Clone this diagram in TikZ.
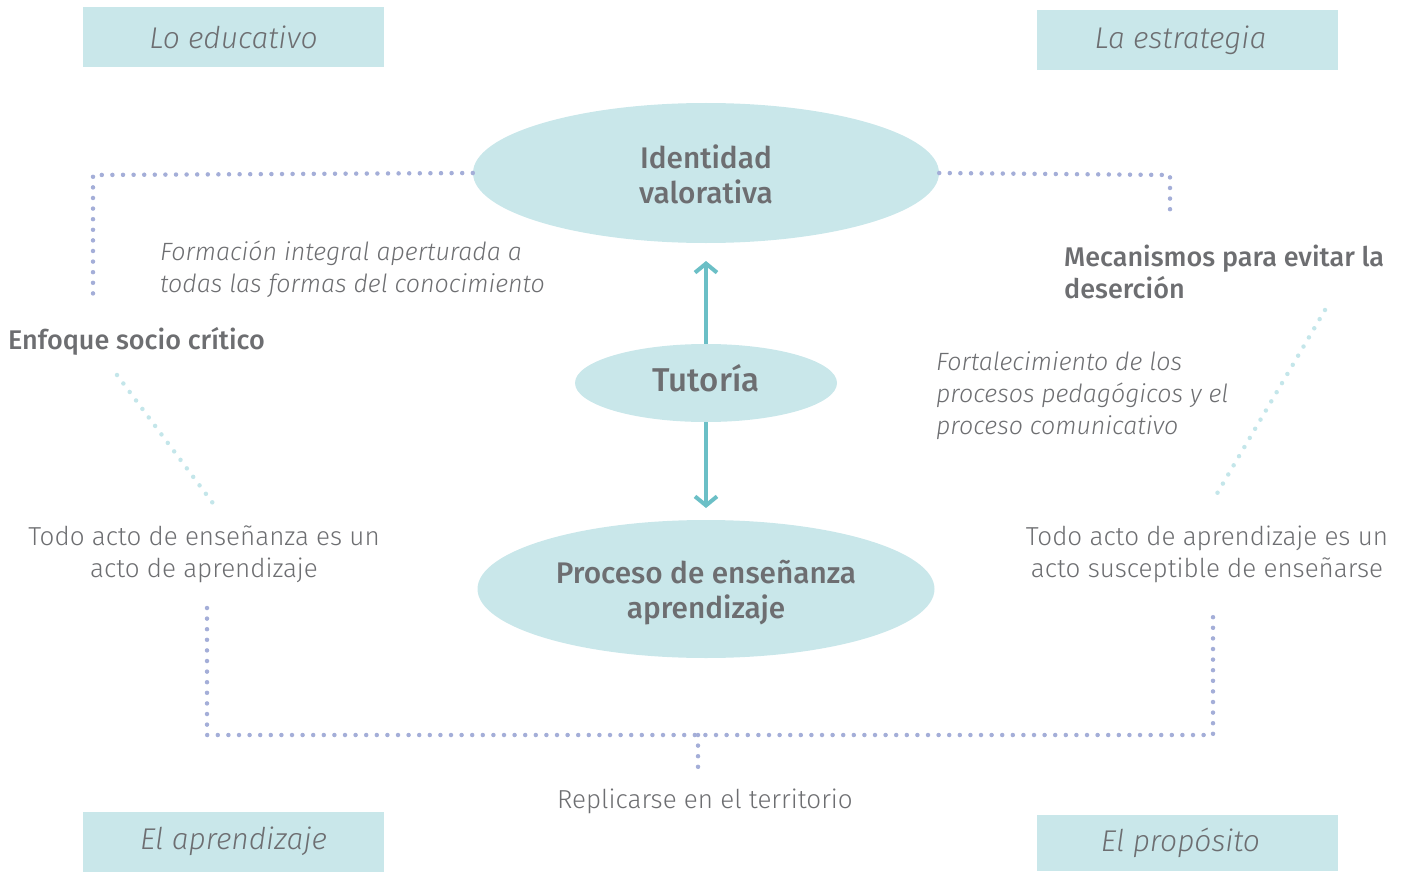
\documentclass[tikz,border=0pt]{standalone}
\usepackage{fontspec}
\setmainfont{Fira Sans}[UprightFont={* Light},ItalicFont={* Light Italic},BoldFont={* Medium},BoldItalicFont={* Medium Italic}]
\usetikzlibrary{shapes.geometric,arrows.meta}
\definecolor{boxfill}{HTML}{C9E7EA}
\definecolor{txt}{HTML}{6D6E71}
\definecolor{dotp}{HTML}{A4AED8}
\definecolor{dotc}{HTML}{C4E6EA}
\definecolor{arrc}{HTML}{6BBFC6}
\tikzset{
  hdr/.style={fill=boxfill,minimum width=301pt,minimum height=60pt,inner sep=0pt,text=txt,font=\itshape\fontsize{30}{36}\selectfont},
  ell/.style={ellipse,fill=boxfill,inner sep=0pt},
  elltxt/.style={text=txt,align=center,inner sep=0pt,font=\bfseries\fontsize{29.8}{35}\selectfont},
  body/.style={text=txt,font=\fontsize{26}{32}\selectfont,inner sep=0pt},
  ital/.style={text=txt,font=\itshape\fontsize{25}{32}\selectfont,inner sep=0pt,align=left},
  bold/.style={text=txt,font=\bfseries\fontsize{27}{32}\selectfont,inner sep=0pt,align=left},
  dotline/.style={draw=dotp,line width=4.5pt,line cap=round,dash pattern=on 0pt off 10.6pt},
  dotlight/.style={draw=dotc,line width=4.5pt,line cap=round,dash pattern=on 0pt off 10.6pt},
  arrline/.style={draw=arrc,line width=4pt,-{Straight Barb[length=9pt,width=22pt,line width=4pt]}}
}
\begin{document}
\begin{tikzpicture}[x=1pt,y=-1pt]
\useasboundingbox (0,0) rectangle (1408,872);
% header boxes
\node[hdr] (h1) at (233.5,37) {Lo educativo};
\node[hdr] (h2) at (1187.5,40) {\hspace*{-14pt}La estrategia};
\node[hdr] (h3) at (233.5,841.5) {El aprendizaje};
\node[hdr,minimum height=56pt] (h4) at (1187.5,843) {\hspace*{-14pt}El propósito};
% ellipses
\node[ell,minimum width=466pt,minimum height=140pt] (iden) at (706,173) {};
\node[elltxt] (identxt) at (706,174) {Identidad\\valorativa};
\node[ell,minimum width=262pt,minimum height=78pt] (tut) at (706,383) {};
\node[elltxt,font=\bfseries\fontsize{33}{38}\selectfont] (tuttxt) at (706,378) {Tutoría};
\node[ell,minimum width=457pt,minimum height=138pt] (proc) at (706,589) {};
\node[elltxt] (proctxt) at (706,593) {Proceso de enseñanza\\aprendizaje};
% arrows
\coordinate (atop) at (706,261);
\coordinate (abot) at (706,508);
\draw[arrline] (tut.north) -- (atop);
\draw[arrline] (tut.south) -- (abot);
% texts
\node[ital,anchor=west] (form) at (160,269) {Formación integral aperturada a\\todas las formas del conocimiento};
\node[bold,anchor=west] (enf) at (8,341) {Enfoque socio crítico};
\node[body,align=center] (todo1) at (204,554) {Todo acto de enseñanza es un\\acto de aprendizaje};
\node[bold,anchor=west] (meca) at (1064,272) {Mecanismos para evitar la\\deserción};
\node[ital,anchor=west] (fort) at (936,396) {Fortalecimiento de los\\procesos pedagógicos y el\\proceso comunicativo};
\node[body,align=center] (todo2) at (1207,554) {Todo acto de aprendizaje es un\\acto susceptible de enseñarse};
\node[body] (rep) at (705,801) {Replicarse en el territorio};
% dotted connectors
\coordinate (c1) at (93,175);
\coordinate (c1e) at (93,297);
\coordinate (c2) at (1170,175);
\coordinate (c2e) at (1170,212);
\draw[dotline] (iden.west) -- (c1) -- (c1e);
\draw[dotline] (iden.east) -- (c2) -- (c2e);
\coordinate (l1a) at (117,375);
\coordinate (l1b) at (218,510);
\draw[dotlight] (l1a) -- (l1b);
\coordinate (l2a) at (1325,310);
\coordinate (l2b) at (1215,497);
\draw[dotlight] (l2a) -- (l2b);
\coordinate (b1) at (207,608);
\coordinate (b2) at (207,735);
\coordinate (b3) at (1213,735);
\coordinate (b4) at (1213,612);
\coordinate (bm) at (698,735);
\coordinate (bme) at (698,772);
\draw[dotline] (b1) -- (b2) -- (b3) -- (b4);
\draw[dotline] (bm) -- (bme);
\end{tikzpicture}
\end{document}
